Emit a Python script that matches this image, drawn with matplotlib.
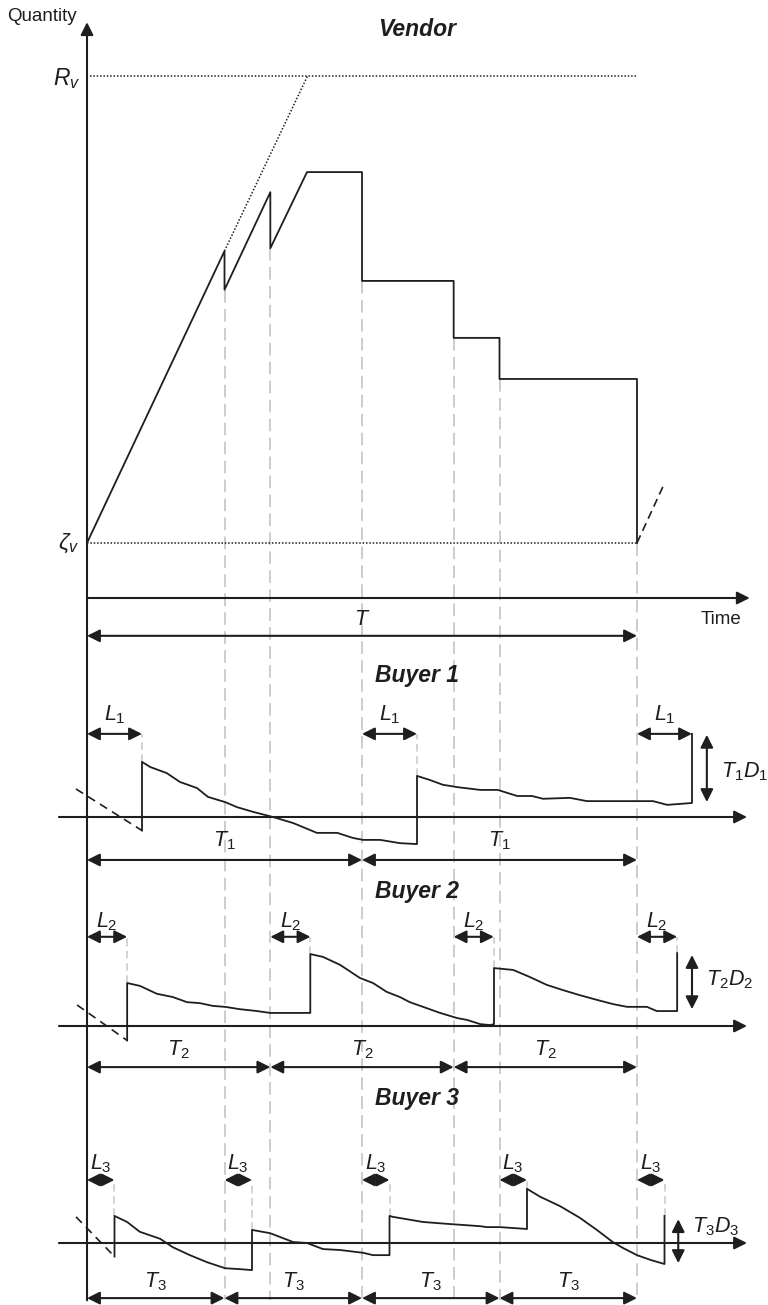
import numpy as np
import matplotlib.pyplot as plt

plt.rcParams['font.family'] = 'Liberation Sans'
plt.rcParams['mathtext.fontset'] = 'custom'
plt.rcParams['mathtext.rm'] = 'Liberation Sans'
plt.rcParams['mathtext.it'] = 'Liberation Sans:italic'
plt.rcParams['mathtext.bf'] = 'Liberation Sans:bold'

# time is in units of the vendor cycle T, quantities in arbitrary units
zeta_v = 11.8
R_v = 111.8

vendor_t = [0, 0.25, 0.25, 1/3, 1/3, 0.4, 0.5, 0.5, 2/3, 2/3, 0.75, 0.75, 1.0, 1.0]
vendor_q = [11.8, 74.3, 66.0, 86.9, 74.9, 91.2, 91.2, 67.9, 67.9, 55.7, 55.7, 46.9, 46.9, 11.8]
prod_line_t = [0.25, 0.401]          # dotted continuation of the production ramp
prod_line_q = [74.3, 111.8]
restart_t = [1.0, 1.047]             # next cycle ramp (dashed)
restart_q = [11.8, 23.8]

# buyer 1
b1_L, b1_cycle = 0.1, 0.5
b1_pre_t = [-0.02, 0.1]
b1_pre_q = [6.0, -2.9]
b1_t = [0.1, 0.1, 0.115, 0.145, 0.169, 0.2, 0.22, 0.251, 0.273, 0.302, 0.338, 0.375,
        0.418, 0.455, 0.484, 0.502, 0.533, 0.569, 0.6, 0.6, 0.624, 0.647, 0.673, 0.715,
        0.747, 0.782, 0.809, 0.829, 0.878, 0.909, 1.0, 1.029, 1.055, 1.1, 1.1]
b1_q = [-2.9, 11.8, 10.7, 9.4, 7.5, 6.2, 4.3, 3.2, 2.1, 1.1, 0.0, -1.3,
        -3.4, -3.4, -4.5, -4.9, -4.9, -5.6, -5.8, 8.8, 7.9, 6.9, 6.4, 5.8,
        5.8, 4.5, 4.5, 3.9, 4.1, 3.4, 3.4, 3.4, 2.6, 3.0, 17.8]

# buyer 2
b2_L, b2_cycle = 0.073, 1/3
b2_pre_t = [-0.018, 0.073]
b2_pre_q = [4.5, -3.1]
b2_t = [0.073, 0.073, 0.096, 0.127, 0.156, 0.182, 0.205, 0.229, 0.251, 0.278, 0.309,
        0.333, 0.406, 0.406, 0.429, 0.46, 0.496, 0.52, 0.545, 0.569, 0.587, 0.611,
        0.642, 0.673, 0.691, 0.715, 0.733, 0.74, 0.74, 0.775, 0.805, 0.836, 0.865,
        0.896, 0.927, 0.956, 0.982, 1.018, 1.036, 1.073, 1.073]
b2_q = [-3.1, 9.2, 8.6, 6.9, 6.2, 5.1, 4.9, 4.3, 4.1, 3.6, 3.2,
        2.8, 2.8, 15.4, 14.8, 13.1, 10.3, 9.2, 7.3, 6.2, 5.1, 4.1,
        2.8, 1.7, 1.3, 0.4, 0.2, 0.4, 12.4, 12.0, 10.5, 8.8, 7.7,
        6.6, 5.6, 4.7, 4.1, 4.1, 3.2, 3.2, 15.6]

# buyer 3
b3_L, b3_cycle = 0.05, 0.25
b3_pre_t = [-0.02, 0.05]
b3_pre_q = [5.6, -2.9]
b3_t = [0.05, 0.05, 0.073, 0.096, 0.133, 0.156, 0.187, 0.218, 0.251, 0.278, 0.3,
        0.3, 0.333, 0.375, 0.4, 0.429, 0.46, 0.502, 0.52, 0.55, 0.55, 0.556, 0.611,
        0.655, 0.715, 0.727, 0.751, 0.8, 0.8, 0.824, 0.86, 0.896, 0.927, 0.956,
        0.975, 1.0, 1.024, 1.05, 1.05]
b3_q = [-2.9, 5.8, 4.5, 2.4, 0.9, -0.9, -2.6, -4.1, -5.4, -5.6, -5.8,
        2.8, 2.1, 0.2, 0.0, -1.3, -1.5, -2.1, -2.6, -2.6, 5.8, 5.6, 4.5,
        4.1, 3.6, 3.4, 3.4, 3.0, 11.6, 9.9, 7.9, 5.4, 2.8, 0.2,
        -1.1, -2.6, -3.6, -4.5, 5.8]

INK = '#1e1e1e'
GREY = '#c8c8c8'
W, H = 768, 1305
X0, XS = 87, 550     # pixel of t=0, pixels per T
QS = 4.67            # pixels per quantity unit

fig = plt.figure(figsize=(W / 100, H / 100), dpi=100)


def panel(base_px):
    ax = fig.add_axes([0, 0, 1, 1])
    ax.set_xlim(-X0 / XS, (W - X0) / XS)
    ax.set_ylim((base_px - H) / QS, base_px / QS)
    ax.axis('off')
    ax.patch.set_alpha(0)
    return ax


def arrow(ax, p0, p1, style='<|-|>'):
    ax.annotate('', xy=p1, xytext=p0,
                arrowprops=dict(arrowstyle=style, mutation_scale=19, lw=1.5,
                                color=INK, shrinkA=0, shrinkB=0))


def label(ax, x, y, s, **kw):
    kw.setdefault('ha', 'center')
    kw.setdefault('va', 'baseline')
    kw.setdefault('fontsize', 15.5)
    ax.text(x, y, s, color=INK, **kw)


# ---------------- vendor ----------------
ax = panel(598)
ybot = ax.get_ylim()[0]
for i in range(len(vendor_t) - 1):
    if vendor_t[i] == vendor_t[i + 1] and vendor_q[i + 1] < vendor_q[i]:
        ax.plot([vendor_t[i]] * 2, [vendor_q[i + 1], ybot + 1], color=GREY, lw=1.3,
                dashes=(7, 3.5), zorder=1)
ax.plot(vendor_t, vendor_q, color=INK, lw=1.3, zorder=3)
ax.plot(prod_line_t, prod_line_q, color=INK, lw=1.1, ls=(0, (1, 1.2)))
ax.plot([0.006, 1.0], [R_v, R_v], color=INK, lw=1.1, ls=(0, (1, 1.2)))
ax.plot([0, 1.0], [zeta_v, zeta_v], color=INK, lw=1.1, ls=(0, (1, 1.2)))
ax.plot(restart_t, restart_q, color=INK, lw=1.2, dashes=(5, 3))
arrow(ax, (0, ybot + 1), (0, 123.3), '-|>')
arrow(ax, (0, 0), (1.205, 0), '-|>')
arrow(ax, (0, -8.1), (1.0, -8.1))
ax.text(-0.1455, 124.6, 'Quantity', fontsize=13.5, ha='left', va='center', color=INK)
ax.text(0.6, 121.8, 'Vendor', fontsize=16.5, weight='bold', style='italic',
        ha='center', va='center', color=INK)
label(ax, -0.012, 109.9, '$R_v$', ha='right', fontsize=16.5)
label(ax, -0.014, zeta_v, r'$\zeta_v$', ha='right', va='center', fontsize=16.5)
label(ax, 1.116, -5.6, 'Time', ha='left', fontsize=13.5)
label(ax, 0.5, -5.8, '$T$')


# ---------------- buyers ----------------
buyers = [
    (1, 817, b1_t, b1_q, b1_pre_t, b1_pre_q, b1_L, b1_cycle,
     30.4, 17.8, 20.6, -9.2, -6.4, 1.127, (3.2, 17.6), (1.152, 9.6)),
    (2, 1026, b2_t, b2_q, b2_pre_t, b2_pre_q, b2_L, b2_cycle,
     28.7, 19.1, 21.2, -8.8, -6.4, 1.1, (3.6, 15.2), (1.125, 9.9)),
    (3, 1243, b3_t, b3_q, b3_pre_t, b3_pre_q, b3_L, b3_cycle,
     31.0, 13.5, 15.8, -11.8, -9.6, 1.075, (-4.3, 5.1), (1.1, 3.4)),
]

for (k, base, t, q, pre_t, pre_q, L, cyc, title_y, l_y, l_txt,
     T_y, T_txt, dd_x, dd_span, dd_lab) in buyers:
    ax = panel(base)
    starts = np.arange(0, 1 + 1e-9, cyc)
    # guide from lead-time arrow down to the replenished level
    for i in range(len(t) - 1):
        if t[i] == t[i + 1] and q[i + 1] > q[i] and q[i + 1] < l_y:
            ax.plot([t[i]] * 2, [q[i + 1], l_y], color=GREY, lw=1.1,
                    dashes=(5, 3), zorder=1)
    ax.plot(pre_t, pre_q, color=INK, lw=1.2, dashes=(5, 3.5))
    ax.plot(t, q, color=INK, lw=1.3, zorder=3)
    arrow(ax, (-0.051, 0), (1.2, 0), '-|>')
    ax.text(0.6, title_y, f'Buyer {k}', fontsize=16.5, weight='bold', style='italic',
            ha='center', va='center', color=INK)
    for s in starts:
        arrow(ax, (s, l_y), (s + L, l_y))
        label(ax, s + L / 2, l_txt, f'$L_{k}$')
    for a, b in zip(starts[:-1], starts[1:]):
        arrow(ax, (a, T_y), (b, T_y))
        label(ax, (a + b) / 2, T_txt, f'$T_{k}$')
    arrow(ax, (dd_x, dd_span[0]), (dd_x, dd_span[1]))
    label(ax, dd_lab[0], dd_lab[1], f'$T_{k}D_{k}$', ha='left', va='center')

fig.savefig('out.png', dpi=100)
